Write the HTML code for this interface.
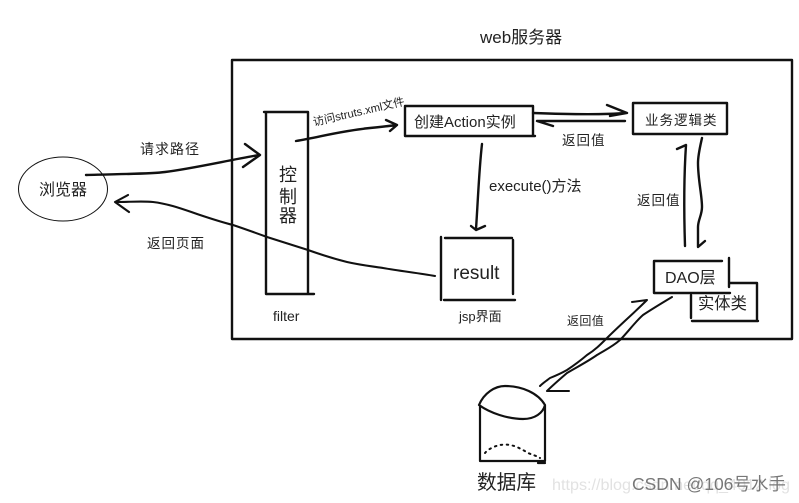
<!DOCTYPE html>
<html><head><meta charset="utf-8">
<style>
html,body{margin:0;padding:0;background:#fff}
svg{display:block}
text{font-family:"Liberation Sans","Noto Sans CJK SC",sans-serif;fill:#222}
path,line,ellipse{fill:none;stroke:#111;stroke-linecap:round;stroke-linejoin:round}
.s{letter-spacing:1px}
</style></head>
<body>
<svg width="799" height="503" viewBox="0 0 799 503" xmlns="http://www.w3.org/2000/svg">
<g stroke-width="2.4">
<path d="M232 60H792V339H232Z" stroke-width="2.4"/>
<path d="M264 112H308V294M266 112V294H314"/>
<path d="M405 106H533V135M405 106V136H535"/>
<path d="M633 103H727V134H633Z"/>
<path d="M441 237V300M445 238H512M513 240V294M444 300H515"/>
<path d="M654 261H722M729 258V287M654 261V293H730"/>
<path d="M730 283H757V321M692 321H758M691 295V318"/>
<path d="M86 175C120 174 150 174 165 172C190 169 225 161 259 155M245 144L260 155L243 167"/>
<path d="M128 195L115 202L129 212M115 202C130 202 142 201 153 202C170 204 185 210 200 215C215 220 225 223 233 225C245 229 256 233 267 237C280 241 295 246 308 250C322 255 335 259 347 262C360 265 370 266 383 268C400 271 418 273 435 276" stroke-width="2.1"/>
<path d="M296 141C320 137 340 131 370 128C380 127 390 126 397 125M386 120L397 125L390 131"/>
<path d="M482 144C479 170 478 200 476 229M471 226L476 230L485 226"/>
<path d="M533 113C560 114 600 115 626 113M607 105L627 113L610 116"/>
<path d="M537 121C565 121 600 121 625 121M537 121L553 126"/>
<path d="M686 145L677 149M686 145C684 175 684 215 685 246"/>
<path d="M702 138C700 147 698 155 698 163C698 180 702 195 702 207C702 215 698 220 698 227C698 235 698 240 698 247L705 241"/>
<path d="M632 302L647 300C635 312 620 325 607 338C600 345 595 350 587 355C580 361 573 366 567 370C560 374 555 376 550 378C546 381 543 383 540 386" stroke-width="2"/>
<path d="M672 297C662 303 652 309 643 315C635 322 628 332 620 340C612 347 605 350 597 355C587 362 577 367 567 373C560 379 553 385 547 391H569" stroke-width="2"/>
<path d="M479 405C484 393 495 386 505 386C522 386 538 393 545 405C543 413 535 419 523 419C508 419 490 413 479 405M480 406V461H545V405M538 463H545" stroke-width="2.2"/>
<path d="M485 453C488 449 495 446 500 445C506 444 512 445 517 447C521 449 525 451 528 453C533 455 537 456 540 458" stroke-dasharray="1.5 4.5" stroke-width="2"/>
</g>
<ellipse cx="63" cy="189" rx="44.5" ry="32" stroke="#777" stroke-width="1"/>
<text x="39" y="195" font-size="16">浏览器</text>
<text x="140" y="154" font-size="14" class="s">请求路径</text>
<text x="147" y="248" font-size="13.5" class="s">返回页面</text>
<text x="480" y="43" font-size="17">web服务器</text>
<text x="279" y="181" font-size="18">控</text>
<text x="279" y="203" font-size="18">制</text>
<text x="279" y="222" font-size="18">器</text>
<text x="273" y="321" font-size="14">filter</text>
<text transform="translate(314 126) rotate(-13)" font-size="11.3">访问struts.xml文件</text>
<text x="414" y="127" font-size="15">创建Action实例</text>
<text x="645" y="125" font-size="13.5" class="s">业务逻辑类</text>
<text x="562" y="145" font-size="13.5" class="s">返回值</text>
<text x="489" y="191" font-size="15">execute()方法</text>
<text x="637" y="205" font-size="13.5" class="s">返回值</text>
<text x="453" y="279" font-size="19">result</text>
<text x="459" y="321" font-size="13">jsp界面</text>
<text x="665" y="283" font-size="16">DAO层</text>
<text x="698" y="309" font-size="16.3">实体类</text>
<text x="567" y="325" font-size="12" class="s" style="letter-spacing:.4px">返回值</text>
<text x="477" y="489" font-size="19.7">数据库</text>
<text x="552" y="490" font-size="16" textLength="238" lengthAdjust="spacingAndGlyphs" style="fill:#e2e2e2">https://blog.csdn.net/qq_4012.log</text>
<text x="632" y="490" font-size="17.5" style="fill:#777">CSDN @106号水手</text>
</svg>
</body></html>
